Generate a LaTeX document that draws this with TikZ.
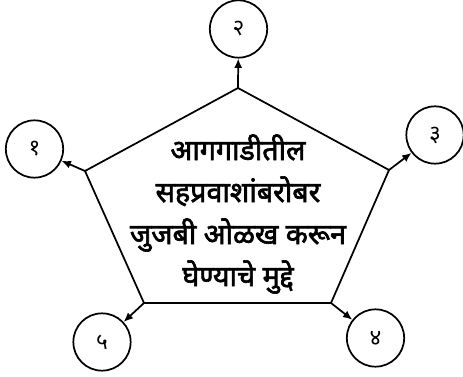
\documentclass[tikz,border=0pt]{standalone}
\usepackage{fontspec}
\newfontfamily\marathi[Script=Devanagari, AutoFakeBold=2.2]{Noto Sans}
\usepackage{tikz}
\usetikzlibrary{arrows.meta,positioning}

\tikzset{
  kram/.style={draw, circle, line width=1.3pt, minimum size=43pt, inner sep=0pt, font=\marathi\fontsize{17}{19}\selectfont},
  bindu/.style={->, line width=1.3pt}
}

\begin{document}
\begin{tikzpicture}[>={Latex[length=7pt,width=6pt]}, x=0.75pt, y=-0.75pt, line join=miter]
    \useasboundingbox (0,0) rectangle (463,377);

    % Pentagon corners
    \coordinate (ptop) at (238,88);
    \coordinate (pright) at (389,170);
    \coordinate (pbr) at (331,303);
    \coordinate (pbl) at (144,303);
    \coordinate (pleft) at (85,171);
    \draw[line width=1.3pt] (ptop) -- (pright) -- (pbr) -- (pbl) -- (pleft) -- cycle;

    % Title text
    \node[align=center, font=\marathi\bfseries\fontsize{21.5}{31.5}\selectfont] (shirshak) at (238,214)
        {आगगाडीतील\\सहप्रवाशांबरोबर\\जुजबी ओळख करून\\घेण्याचे मुद्दे};

    % Numbered circles
    \node[kram] (k1) at (34.5,149) {१};
    \node[kram] (k2) at (238.5,29) {२};
    \node[kram] (k3) at (435,135) {३};
    \node[kram] (k4) at (375.5,338) {४};
    \node[kram] (k5) at (102,342) {५};

    % Arrows
    \draw[bindu] (pleft) -- (k1);
    \draw[bindu] (ptop) -- (k2);
    \draw[bindu] (pright) -- (k3);
    \draw[bindu] (pbr) -- (k4);
    \draw[bindu] (pbl) -- (k5);
\end{tikzpicture}
\end{document}
